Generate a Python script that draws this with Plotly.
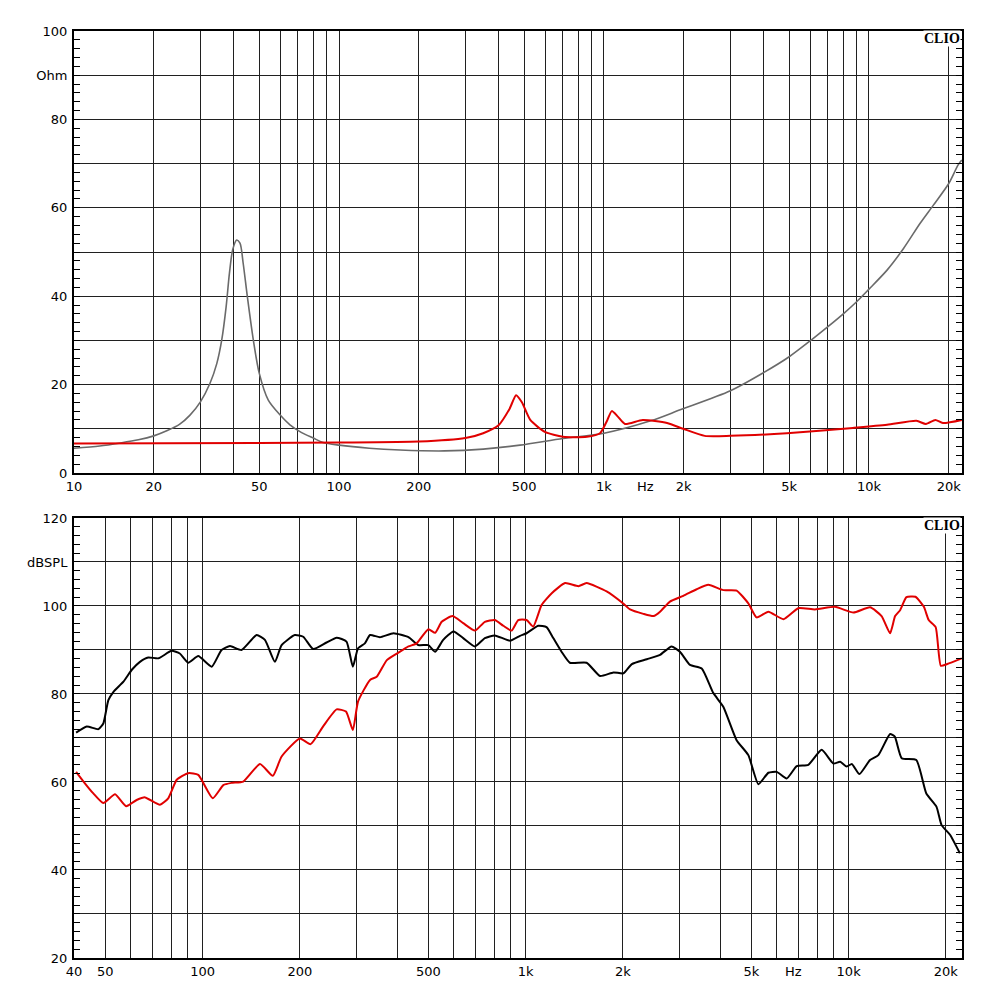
import math
import plotly.graph_objects as go

# ---------------- data ----------------
# Top: impedance (Ohm)
imp_gray_f = [10, 12.5, 15, 17.5, 20, 22.5, 25, 27.4, 30, 32.6, 34.6, 36.1, 37.5, 38.6, 39.7, 41.1, 42.3,
              43.5, 45.1, 47.5, 50, 54.1, 60, 65.3, 72, 80, 87, 100, 130, 170, 250, 350, 482, 700, 1000,
              1500, 1940, 3000, 4000, 5000, 6000, 7000, 8000, 9000, 10000, 11700, 13500, 15600, 17500,
              20000, 21700, 22400]
imp_gray_z = [5.6, 6.1, 6.8, 7.5, 8.4, 9.6, 11.0, 13.1, 16.1, 20.3, 24.8, 30.1, 37.6, 45.2, 50.5, 52.7, 52.0,
              47.4, 39.9, 30.1, 22.6, 16.5, 13.1, 10.9, 9.2, 7.9, 6.9, 6.3, 5.6, 5.2, 5.0, 5.4, 6.3, 7.8, 9.0,
              11.8, 14.3, 18.6, 22.7, 26.3, 29.9, 33.1, 36.0, 38.8, 41.6, 45.9, 50.8, 56.5, 60.6,
              65.5, 69.7, 70.8]

imp_red_f = [10, 50, 100, 200, 300, 350, 400, 440, 466, 490, 527, 598, 700, 862, 966, 1030, 1070, 1130,
             1200, 1400, 1730, 1990, 2400, 3000, 4900, 8700, 11700, 15100, 16400, 17800, 19000, 22400]
imp_red_z = [6.7, 6.8, 6.9, 7.1, 7.9, 9.0, 10.8, 14.5, 17.6, 16.0, 12, 9.3, 8.2, 8.2, 9.0, 12, 14.0, 12.7,
             11.1, 12.0, 11.3, 10, 8.4, 8.4, 9.0, 10.2, 10.9, 11.8, 11.1, 12.0, 11.3, 12.0]

# Bottom: SPL (dB)
spl_black_f = [40.6, 43.8, 47.6, 49.3, 51.1, 53, 56.9, 60.4, 64, 67.9, 73, 80.2, 85, 90.3, 97, 106.7, 114.5,
               121.6, 132, 147, 156, 167.5, 175.7, 193, 205, 220, 242, 260, 279, 292, 303, 318, 330, 354,
               390, 434, 466, 500, 525, 556, 598, 641, 697, 748, 803, 895, 961, 1007, 1094, 1161, 1218,
               1292, 1371, 1545, 1700, 1871, 2010, 2133, 2373, 2608, 2830, 3005, 3228, 3510, 3813, 4093,
               4500, 4893, 5255, 5645, 5990, 6433, 6910, 7504, 8253, 8973, 9413, 9870, 10230, 10800,
               11650, 12360, 13440, 13900, 14600, 16200, 17400, 18700, 19400, 20600, 22100]
spl_black_db = [71.2, 72.6, 72.0, 73.3, 78.6, 80.5, 82.8, 85.5, 87.3, 88.3, 88.1, 89.8, 89.2, 87.1, 88.6,
                86.2, 90.0, 90.9, 90.0, 93.4, 92.3, 87.3, 91.1, 93.4, 93.0, 90.2, 91.7, 92.8, 91.9, 86.2,
                90.4, 91.5, 93.4, 92.9, 93.8, 92.9, 91.1, 91.1, 89.6, 92.3, 94.2, 92.7, 90.8, 92.7, 93.3,
                92.1, 93.2, 93.8, 95.5, 95.2, 92.7, 89.6, 87.1, 87.1, 84.1, 84.9, 84.7, 86.8, 87.9, 88.9,
                90.8, 89.6, 86.6, 85.8, 80.2, 77.1, 69.5, 66.1, 59.5, 62.1, 62.3, 60.8, 63.6, 63.9, 67.3,
                64.2, 64.6, 63.5, 64.1, 61.8, 65.0, 66.1, 70.9, 70.3, 65.4, 65.0, 57.4, 54.4, 50.2, 48.0,
                43.8]

spl_red_f = [40.6, 42.8, 45.9, 49.3, 53.6, 58, 62.5, 66.4, 73.8, 78.3, 83.2, 90.3, 97, 107.5, 116, 123,
             133.7, 150.6, 165, 175.7, 200, 216, 236.5, 260, 278, 292, 303, 330, 346, 372, 404, 434, 460,
             500, 525, 550, 594, 641, 697, 748, 803, 853, 905, 949, 1007, 1056, 1121, 1205, 1325, 1457,
             1545, 1782, 2010, 2106, 2315, 2490, 2608, 2798, 3078, 3385, 3680, 4093, 4500, 4893, 5190,
             5645, 6281, 6985, 7866, 9078, 10350, 11650, 12650, 13440, 13930, 14450, 15100, 16100,
             17100, 17700, 18600, 19300, 20200, 22400]
spl_red_db = [62.3, 60.1, 57.4, 55.2, 57.2, 54.5, 55.9, 56.5, 54.8, 56.3, 60.5, 62.0, 61.6, 56.3, 59.3,
              59.8, 60.1, 64.1, 61.4, 65.8, 69.9, 68.6, 72.7, 76.5, 76.0, 71.8, 78.3, 83.2, 83.9, 87.7,
              89.4, 90.8, 91.5, 94.7, 93.9, 96.4, 97.7, 96.1, 94.4, 96.4, 96.8, 95.5, 94.4, 96.8, 96.8,
              95.3, 100.2, 102.9, 105.2, 104.5, 105.2, 103.3, 100.5, 99.2, 98.2, 97.7, 98.7, 101.0,
              102.3, 103.8, 104.8, 103.6, 103.5, 100.6, 97.4, 98.7, 97.0, 99.5, 99.2, 99.8, 98.5, 99.7,
              97.7, 93.8, 97.7, 99.1, 102.0, 102.1, 99.8, 96.8, 95.2, 86.4, 86.8, 88.1]

# Axis ticks
top_xtick_vals = [10, 20, 50, 100, 200, 500, 1000, 2000, 5000, 10000, 20000]
top_xtick_text = ["10", "20", "50", "100", "200", "500", "1k", "2k", "5k", "10k", "20k"]
bot_xtick_vals = [40, 50, 100, 200, 500, 1000, 2000, 5000, 10000, 20000]
bot_xtick_text = ["40", "50", "100", "200", "500", "1k", "2k", "5k", "10k", "20k"]
top_hz_pos = 1430
bot_hz_pos = 6760

top_ytick_vals = [0, 10, 20, 30, 40, 50, 60, 70, 80, 90, 100]
top_ytick_text = ["0", "", "20", "", "40", "", "60", "", "80", "Ohm", "100"]
bot_ytick_vals = [20, 30, 40, 50, 60, 70, 80, 90, 100, 110, 120]
bot_ytick_text = ["20", "", "40", "", "60", "", "80", "", "100", "dBSPL", "120"]

# decade grid lines (1..9 multiples)
def decade_lines(lo, hi):
    out = []
    for e in range(1, 5):
        for m in range(1, 10):
            v = m * 10 ** e
            if lo <= v <= hi:
                out.append(v)
    return out

top_grid = [v for v in decade_lines(10, 22000) if v not in top_xtick_vals]
bot_grid = [v for v in decade_lines(40, 22000) if v not in bot_xtick_vals]

# ---------------- figure ----------------
GRID = "#202020"
GW = 1.4
FONT = dict(family="DejaVu Sans, Verdana, sans-serif", size=13, color="black")
XR = [1.0, 4.351]
XR2 = [math.log10(40), 4.351]

fig = go.Figure()
fig.add_trace(go.Scatter(x=imp_gray_f, y=imp_gray_z, mode="lines", line=dict(color="#6a6a6a", width=1.6, shape="spline", smoothing=0.8),
                         xaxis="x", yaxis="y", showlegend=False, hoverinfo="skip"))
fig.add_trace(go.Scatter(x=imp_red_f, y=imp_red_z, mode="lines", line=dict(color="#e00000", width=2, shape="spline", smoothing=0.6),
                         xaxis="x", yaxis="y", showlegend=False, hoverinfo="skip"))
fig.add_trace(go.Scatter(x=spl_black_f, y=spl_black_db, mode="lines", line=dict(color="black", width=2, shape="spline", smoothing=0.5),
                         xaxis="x2", yaxis="y2", showlegend=False, hoverinfo="skip"))
fig.add_trace(go.Scatter(x=spl_red_f, y=spl_red_db, mode="lines", line=dict(color="#e00000", width=2, shape="spline", smoothing=0.5),
                         xaxis="x2", yaxis="y2", showlegend=False, hoverinfo="skip"))

def xaxis(rng, tv, tt, grid, anchor):
    return dict(type="log", range=rng, tickvals=tv, ticktext=tt, showgrid=True, gridcolor=GRID, gridwidth=GW,
                minor=dict(tickmode="array", tickvals=grid, showgrid=True, gridcolor=GRID, gridwidth=GW, ticks=""),
                ticks="", showline=True, linecolor="black", linewidth=2, mirror=True, zeroline=False,
                tickfont=FONT, anchor=anchor, domain=[0, 1])

def yaxis(rng, tv, tt, dom, anchor, dt):
    return dict(range=rng, tickvals=tv, ticktext=tt, showgrid=True, gridcolor=GRID, gridwidth=GW,
                ticks="inside", ticklen=6, tickcolor="black", tickwidth=1,
                minor=dict(dtick=dt, ticks="inside", ticklen=6, tickcolor="black", tickwidth=1, showgrid=False),
                showline=True, linecolor="black", linewidth=2, mirror="allticks", zeroline=False,
                tickfont=FONT, anchor=anchor, domain=dom, ticklabelstandoff=2)

fig.update_layout(
    width=1000, height=1000, paper_bgcolor="white", plot_bgcolor="white",
    margin=dict(l=66, r=46, t=23, b=50),
    xaxis=xaxis(XR, top_xtick_vals, top_xtick_text, top_grid, "y"),
    yaxis=yaxis([0, 100], top_ytick_vals, top_ytick_text, [0.5232, 1], "x", 2),
    xaxis2=xaxis(XR2, bot_xtick_vals, bot_xtick_text, bot_grid, "y2"),
    yaxis2=yaxis([20, 120], bot_ytick_vals, bot_ytick_text, [0, 0.4747], "x2", 2),
)

ann = []
for xr, yr, pos in [("x", "y domain", top_hz_pos), ("x2", "y2 domain", bot_hz_pos)]:
    ann.append(dict(x=math.log10(pos), y=0, xref=xr, yref=yr, text="Hz", showarrow=False,
                    yanchor="top", xanchor="center", yshift=-4, font=FONT))
    ann.append(dict(x=1, y=1, xref="x domain" if xr == "x" else "x2 domain", yref=yr, text="<b>CLIO</b>",
                    showarrow=False, xanchor="right", yanchor="top", xshift=-1, yshift=1,
                    font=dict(family="Liberation Serif, Times New Roman, serif", size=14, color="black"),
                    bgcolor="white", borderpad=0))
fig.update_layout(annotations=ann)

fig.write_html("out.html")
